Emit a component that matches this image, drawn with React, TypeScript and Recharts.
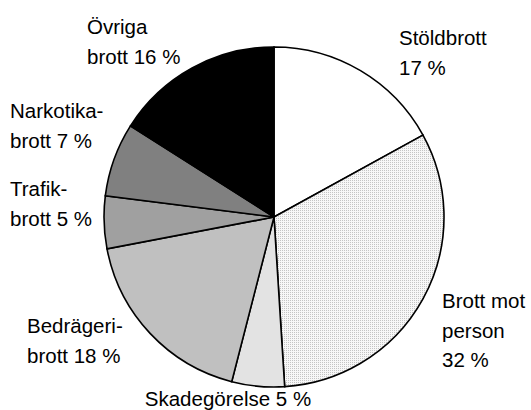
import React from 'react';
import { PieChart, Pie, Cell } from 'recharts';

// Andel brott per kategori (%)
const categories = ['Stöldbrott', 'Brott mot person', 'Skadegörelse', 'Bedrägeribrott', 'Trafikbrott', 'Narkotikabrott', 'Övriga brott'];
const shares = [17, 32, 5, 18, 5, 7, 16];
// label text split into lines, last line gets the value
const labelHeads = [['Stöldbrott'], ['Brott mot', 'person'], ['Skadegörelse'], ['Bedrägeri-', 'brott'], ['Trafik-', 'brott'], ['Narkotika-', 'brott'], ['Övriga', 'brott']];

const fills = ['#ffffff', 'url(#dots)', '#e3e3e3', '#c0c0c0', '#a0a0a0', '#808080', '#000000'];

// label anchor (x of text start, first baseline) relative to pie centre
const labelPos: { dx: number; dy: number; anchor: 'start' | 'middle' }[] = [
    { dx: 125, dy: -172, anchor: 'start' },
    { dx: 168, dy: 91, anchor: 'start' },
    { dx: -46, dy: 189, anchor: 'middle' },
    { dx: -247, dy: 116, anchor: 'start' },
    { dx: -264, dy: -21, anchor: 'start' },
    { dx: -264, dy: -99, anchor: 'start' },
    { dx: -187, dy: -183, anchor: 'start' },
];
const lineGap = 29.5;

const data = categories.map((name, i) => ({ name, value: shares[i] }));

const renderLabel = (props: any) => {
    const { cx, cy, index, value } = props;
    const pos = labelPos[index];
    const head = labelHeads[index];
    let lines: string[];
    if (head.length === 1 && index === 2) {
        lines = [`${head[0]} ${value} %`];
    } else if (head.length === 1) {
        lines = [head[0], `${value} %`];
    } else if (index === 1) {
        lines = [...head, `${value} %`];
    } else {
        lines = [head[0], `${head[1]} ${value} %`];
    }
    return (
        <text
            x={cx + pos.dx}
            y={cy + pos.dy}
            textAnchor={pos.anchor}
            fill="#000"
            fontSize={20.5}
            fontFamily="'Liberation Sans', Arial, sans-serif"
        >
            {lines.map((l, j) => (
                <tspan key={j} x={cx + pos.dx} dy={j === 0 ? 0 : lineGap}>{l}</tspan>
            ))}
        </text>
    );
};

const App: React.FC = () => {
    return (
        <div style={{ position: 'absolute', left: 0, top: 0, width: 531, height: 410, background: '#fff' }}>
            <PieChart width={531} height={410} margin={{ top: 0, right: 0, bottom: 0, left: 0 }}>
                <defs>
                    <pattern id="dots" patternUnits="userSpaceOnUse" width="2" height="2">
                        <rect x="0" y="0" width="2" height="2" fill="#f7f7f7" />
                        <rect x="0" y="0" width="1" height="1" fill="#c4c4c4" />
                    </pattern>
                </defs>
                <Pie
                    data={data}
                    dataKey="value"
                    nameKey="name"
                    cx={274}
                    cy={217}
                    outerRadius={170}
                    startAngle={90}
                    endAngle={-270}
                    stroke="#000"
                    strokeWidth={1.6}
                    label={renderLabel}
                    labelLine={false}
                    isAnimationActive={false}
                >
                    {data.map((d, i) => (
                        <Cell key={d.name} fill={fills[i]} />
                    ))}
                </Pie>
            </PieChart>
        </div>
    );
};

export default App;
